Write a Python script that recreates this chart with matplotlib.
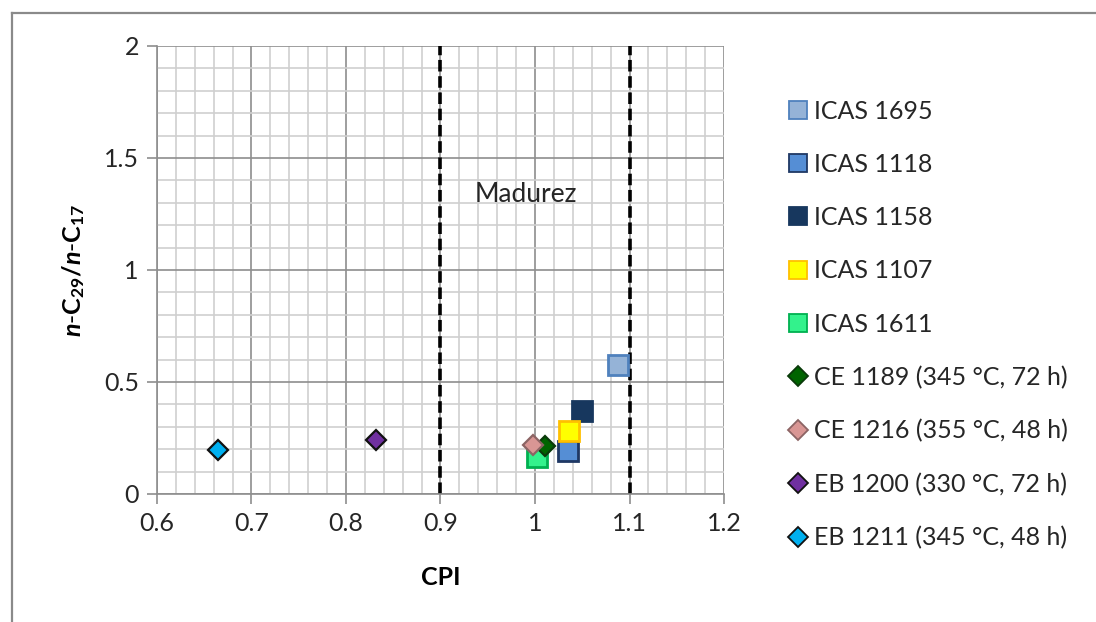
import matplotlib
matplotlib.use('Agg')
import matplotlib.pyplot as plt
from matplotlib.lines import Line2D
from matplotlib.ticker import MultipleLocator

plt.rcParams['font.family'] = ['Lato', 'DejaVu Sans']
plt.rcParams['mathtext.fontset'] = 'custom'
plt.rcParams['mathtext.rm'] = 'Lato'
plt.rcParams['mathtext.it'] = 'Lato:italic'
plt.rcParams['mathtext.bf'] = 'Lato:bold'
plt.rcParams['mathtext.bfit'] = 'Lato:bold:italic'

## ---------------------------------------------------------------------------
## data: CPI vs n-C29/n-C17

samples = ['ICAS 1695', 'ICAS 1118', 'ICAS 1158', 'ICAS 1107', 'ICAS 1611',
           'CE 1189 (345 °C, 72 h)', 'CE 1216 (355 °C, 48 h)',
           'EB 1200 (330 °C, 72 h)', 'EB 1211 (345 °C, 48 h)']
cpi = [1.088, 1.035, 1.050, 1.036, 1.002, 1.011, 0.998, 0.832, 0.665]
ratio = [0.577, 0.19, 0.37, 0.28, 0.165, 0.215, 0.22, 0.24, 0.197]

maturity_bounds = [0.9, 1.1]
maturity_label = 'Madurez'

## marker styling per series
markers = ['s', 's', 's', 's', 's', 'D', 'D', 'D', 'D']
faces = ['#95B3D7', '#558ED5', '#17375E', '#FFFF00', '#33F28C',
         '#006400', '#D99694', '#7030A0', '#00B0F0']
edges = ['#4F81BD', '#1F3864', '#17375E', '#FFC000', '#00B050',
         '#0A3A0A', '#8C6464', '#111111', '#111111']

## ---------------------------------------------------------------------------

fig = plt.figure(figsize=(10.96, 6.22), dpi=100)
ax = fig.add_axes([0.1432, 0.2058, 0.5174, 0.7203])

# grid like a spreadsheet chart: light minor, darker major
ax.set_xlim(0.6, 1.2)
ax.set_ylim(0, 2)
ax.xaxis.set_major_locator(MultipleLocator(0.1))
ax.xaxis.set_minor_locator(MultipleLocator(0.02))
ax.yaxis.set_major_locator(MultipleLocator(0.5))
ax.yaxis.set_minor_locator(MultipleLocator(0.1))
ax.grid(which='minor', color='#CFCFCF', lw=1.2, zorder=0)
ax.grid(which='major', color='#8E8E8E', lw=1.2, zorder=0)
ax.set_axisbelow(True)
for s in ['top', 'right']:
    ax.spines[s].set_visible(False)
for s in ['left', 'bottom']:
    ax.spines[s].set_color('#8E8E8E')
    ax.spines[s].set_linewidth(1.2)
ax.tick_params(which='major', length=7, width=1.2, color='#8E8E8E',
               labelsize=18, pad=6, labelcolor='#262626')
ax.tick_params(which='minor', length=0)
ax.set_xticks([0.6, 0.7, 0.8, 0.9, 1.0, 1.1, 1.2])
ax.set_xticklabels(['0.6', '0.7', '0.8', '0.9', '1', '1.1', '1.2'])
ax.set_yticks([0, 0.5, 1, 1.5, 2])
ax.set_yticklabels(['0', '0.5', '1', '1.5', '2'])

# maturity window
for xb in maturity_bounds:
    ax.axvline(xb, color='black', lw=2.6, dashes=(3.2, 1.3), zorder=2)
ax.text(0.99, 1.335, maturity_label, fontsize=19, color='#262626',
        ha='center', va='center', zorder=3)

handles = []
for i, name in enumerate(samples):
    sq = markers[i] == 's'
    ax.plot(cpi[i], ratio[i], linestyle='none', marker=markers[i],
            markersize=15 if sq else 10, markerfacecolor=faces[i],
            markeredgecolor=edges[i], markeredgewidth=2 if sq else 1.6,
            zorder=4 + i, clip_on=False)
    handles.append(Line2D([], [], linestyle='none', marker=markers[i],
                          markersize=12.5 if sq else 10.5,
                          markerfacecolor=faces[i], markeredgecolor=edges[i],
                          markeredgewidth=1.3, label=name))

ax.set_xlabel('CPI', fontsize=18, fontweight='bold', labelpad=22)
ax.set_ylabel(r'$\mathbfit{n}\mathbf{\text{-}C}_{\mathbf{29}}\mathbf{/}'
              r'\mathbfit{n}\mathbf{\text{-}C}_{\mathbf{17}}$',
              fontsize=18, labelpad=12)

leg = fig.legend(handles=handles, loc='upper left',
                 bbox_to_anchor=(0.712, 0.856), frameon=False,
                 fontsize=18, labelspacing=1.21, handlelength=0.6,
                 handletextpad=0.35, borderaxespad=0, labelcolor='#262626')

# outer chart frame (top and left edges)
fig.add_artist(Line2D([12 / 1096, 1.0], [1 - 13 / 622, 1 - 13 / 622],
                      transform=fig.transFigure, color='#8A8A8A', lw=1.6))
fig.add_artist(Line2D([12 / 1096, 12 / 1096], [0.0, 1 - 13 / 622],
                      transform=fig.transFigure, color='#8A8A8A', lw=1.6))

fig.savefig('out.png', dpi=100)
